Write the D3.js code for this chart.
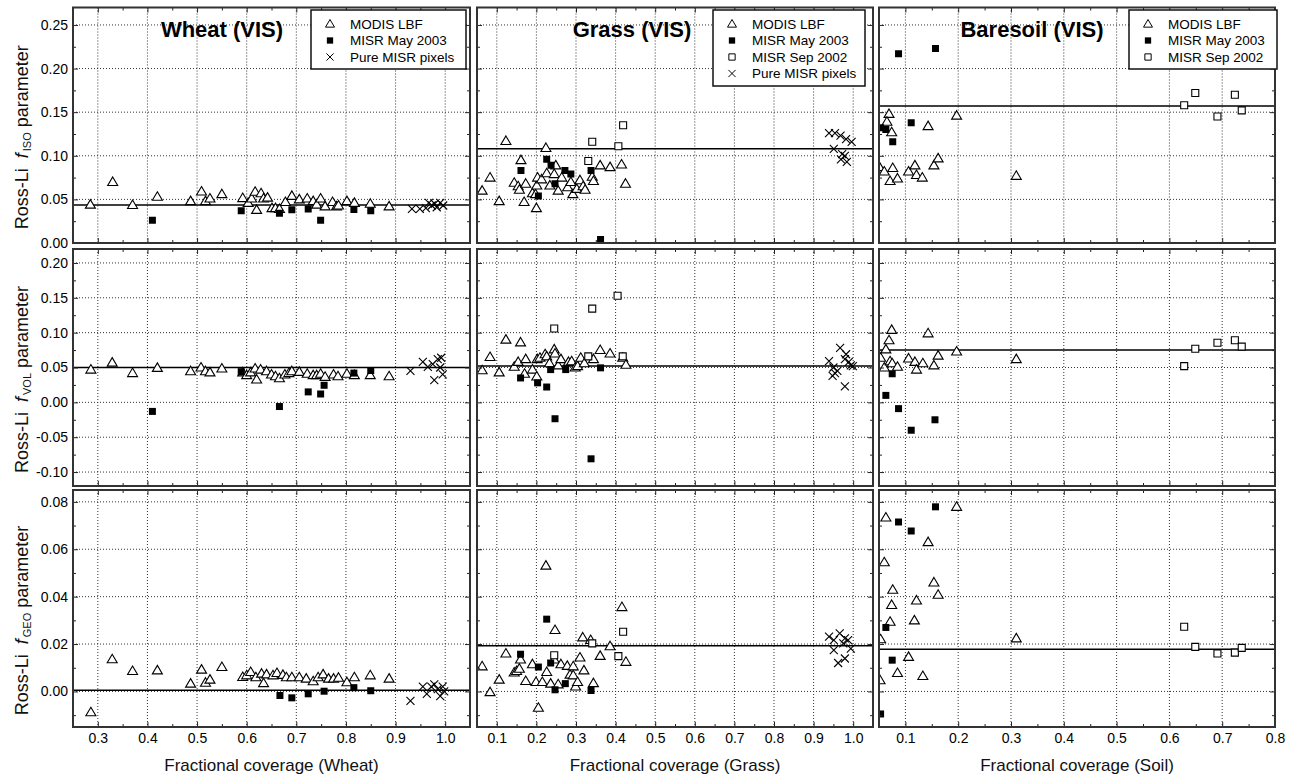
<!DOCTYPE html>
<html>
<head>
<meta charset="utf-8">
<script src="https://cdn.jsdelivr.net/npm/d3@7"></script>
<style>
  body { margin: 0; background: #fff; }
  text { font-family: "Liberation Sans", Arial, sans-serif; }
</style>
</head>
<body>
<svg id="chart" width="1291" height="781"></svg>
<script>
// ---- categories / labels ----
const crops = ["Wheat", "Grass", "Soil"];
const titles = ["Wheat (VIS)", "Grass (VIS)", "Baresoil (VIS)"];
const params = ["ISO", "VOL", "GEO"];
const seriesNames = ["MODIS LBF", "MISR May 2003", "MISR Sep 2002", "Pure MISR pixels"];
const legendSeries = [[0, 1, 3], [0, 1, 2, 3], [0, 1, 2]];

// ---- tick values ----
const xTicks = [
  [0.3, 0.4, 0.5, 0.6, 0.7, 0.8, 0.9, 1.0],
  [0.1, 0.2, 0.3, 0.4, 0.5, 0.6, 0.7, 0.8, 0.9, 1.0],
  [0.1, 0.2, 0.3, 0.4, 0.5, 0.6, 0.7, 0.8]
];
const yTicks = [
  [0, 0.05, 0.10, 0.15, 0.20, 0.25],
  [-0.10, -0.05, 0, 0.05, 0.10, 0.15, 0.20],
  [0, 0.02, 0.04, 0.06, 0.08]
];

// ---- horizontal mean lines [wheat, grass, soil] ----
const isoMean = [0.0435, 0.108, 0.157];
const volMean = [0.050, 0.052, 0.075];
const geoMean = [0.0005, 0.0193, 0.0178];

// ---- Wheat ----
const wheatIsoModis = [[0.285,0.044],[0.330,0.070],[0.370,0.0435],[0.420,0.053],[0.487,0.048],[0.509,0.059],[0.517,0.048],[0.526,0.051],[0.550,0.056],[0.592,0.0515],[0.603,0.046],[0.610,0.051],[0.617,0.0587],[0.620,0.038],[0.629,0.057],[0.634,0.051],[0.642,0.052],[0.651,0.040],[0.658,0.040],[0.666,0.039],[0.678,0.047],[0.691,0.054],[0.706,0.050],[0.722,0.051],[0.734,0.048],[0.741,0.044],[0.749,0.051],[0.758,0.042],[0.773,0.047],[0.781,0.042],[0.785,0.043],[0.802,0.048],[0.817,0.046],[0.849,0.045],[0.887,0.042]];
const wheatIsoMay = [[0.410,0.026],[0.589,0.037],[0.666,0.034],[0.691,0.038],[0.724,0.039],[0.749,0.026],[0.816,0.0385],[0.850,0.037]];
const wheatIsoPure = [[0.933,0.039],[0.949,0.039],[0.961,0.040],[0.967,0.046],[0.973,0.043],[0.979,0.045],[0.983,0.041],[0.990,0.046],[0.996,0.043]];

const wheatVolModis = [[0.286,0.047],[0.329,0.057],[0.370,0.042],[0.420,0.0495],[0.487,0.0447],[0.508,0.050],[0.517,0.0447],[0.526,0.043],[0.550,0.0486],[0.592,0.043],[0.600,0.039],[0.608,0.043],[0.617,0.0486],[0.620,0.0327],[0.628,0.047],[0.640,0.0447],[0.650,0.040],[0.658,0.0375],[0.666,0.0346],[0.677,0.040],[0.685,0.042],[0.691,0.0447],[0.706,0.0437],[0.722,0.041],[0.734,0.039],[0.741,0.039],[0.749,0.041],[0.758,0.0366],[0.775,0.040],[0.784,0.0375],[0.802,0.041],[0.817,0.039],[0.849,0.039],[0.887,0.0375]];
const wheatVolMay = [[0.410,-0.013],[0.589,0.044],[0.666,-0.006],[0.724,0.015],[0.749,0.012],[0.756,0.0245],[0.816,0.042],[0.850,0.0457]];
const wheatVolPure = [[0.930,0.045],[0.955,0.058],[0.965,0.051],[0.975,0.055],[0.978,0.032],[0.985,0.062],[0.990,0.050],[0.995,0.040],[0.992,0.064]];

const wheatGeoModis = [[0.286,-0.0088],[0.329,0.0136],[0.370,0.0086],[0.420,0.0089],[0.487,0.0033],[0.509,0.0092],[0.517,0.0037],[0.526,0.005],[0.550,0.0103],[0.592,0.0061],[0.600,0.0068],[0.608,0.0082],[0.6185,0.006],[0.630,0.0075],[0.634,0.0035],[0.640,0.0072],[0.653,0.0068],[0.661,0.0078],[0.673,0.007],[0.680,0.006],[0.691,0.006],[0.706,0.006],[0.720,0.0054],[0.734,0.0043],[0.744,0.006],[0.754,0.0072],[0.765,0.0054],[0.775,0.0054],[0.785,0.0058],[0.802,0.0039],[0.817,0.006],[0.849,0.0068],[0.887,0.0054]];
const wheatGeoMay = [[0.667,-0.0017],[0.691,-0.0027],[0.724,-0.001],[0.756,0.0001],[0.816,0.0016],[0.850,0.0003]];
const wheatGeoPure = [[0.930,-0.004],[0.955,0.002],[0.963,-0.001],[0.972,0.002],[0.978,0.003],[0.985,0.001],[0.990,-0.002],[0.995,0.002],[0.998,0.000]];

// ---- Grass ----
const grassIsoModis = [[0.063,0.060],[0.083,0.075],[0.106,0.048],[0.123,0.117],[0.144,0.069],[0.154,0.065],[0.157,0.061],[0.161,0.095],[0.169,0.047],[0.173,0.068],[0.190,0.057],[0.198,0.056],[0.201,0.066],[0.200,0.040],[0.203,0.075],[0.213,0.073],[0.224,0.109],[0.226,0.080],[0.234,0.066],[0.245,0.079],[0.249,0.089],[0.255,0.060],[0.264,0.075],[0.279,0.064],[0.287,0.070],[0.292,0.056],[0.302,0.062],[0.310,0.072],[0.318,0.065],[0.323,0.061],[0.341,0.076],[0.344,0.071],[0.361,0.089],[0.386,0.087],[0.415,0.090],[0.425,0.068]];
const grassIsoMay = [[0.161,0.083],[0.226,0.096],[0.237,0.089],[0.247,0.068],[0.205,0.054],[0.272,0.083],[0.287,0.079],[0.338,0.083],[0.362,0.004]];
const grassIsoSep = [[0.341,0.116],[0.331,0.094],[0.407,0.111],[0.419,0.135]];
const grassIsoPure = [[0.939,0.126],[0.954,0.126],[0.968,0.123],[0.982,0.119],[0.996,0.116],[0.951,0.108],[0.969,0.096],[0.979,0.100],[0.984,0.093],[0.972,0.102]];

const grassVolModis = [[0.063,0.046],[0.083,0.065],[0.106,0.043],[0.123,0.090],[0.144,0.051],[0.154,0.058],[0.160,0.086],[0.170,0.041],[0.173,0.062],[0.190,0.047],[0.201,0.037],[0.202,0.062],[0.209,0.064],[0.222,0.069],[0.226,0.066],[0.233,0.056],[0.245,0.076],[0.247,0.070],[0.255,0.053],[0.262,0.062],[0.281,0.058],[0.289,0.059],[0.298,0.050],[0.304,0.052],[0.312,0.064],[0.321,0.056],[0.344,0.062],[0.361,0.075],[0.386,0.070],[0.418,0.064],[0.426,0.054]];
const grassVolMay = [[0.160,0.035],[0.203,0.028],[0.226,0.022],[0.236,0.047],[0.247,-0.0235],[0.274,0.047],[0.338,-0.081],[0.362,0.0495]];
const grassVolSep = [[0.245,0.106],[0.341,0.1345],[0.405,0.153],[0.331,0.066],[0.418,0.066]];
const grassVolPure = [[0.939,0.059],[0.967,0.078],[0.982,0.069],[0.979,0.062],[0.994,0.053],[0.950,0.050],[0.954,0.042],[0.948,0.038],[0.960,0.045],[0.979,0.023],[0.989,0.058],[0.999,0.052]];

const grassGeoModis = [[0.063,0.0106],[0.083,-0.0003],[0.106,0.005],[0.123,0.016],[0.144,0.008],[0.150,0.0086],[0.157,0.0096],[0.160,0.0135],[0.173,0.0044],[0.190,0.0115],[0.199,0.004],[0.205,-0.0069],[0.215,0.004],[0.224,0.0531],[0.226,0.0082],[0.236,0.0033],[0.245,0.0135],[0.247,0.0259],[0.255,0.003],[0.262,0.0115],[0.278,0.0108],[0.285,0.0071],[0.293,0.0106],[0.293,0.0068],[0.299,0.0021],[0.304,0.004],[0.310,0.0143],[0.317,0.0228],[0.320,0.0089],[0.337,0.0217],[0.344,0.0035],[0.361,0.015],[0.386,0.0191],[0.416,0.0356],[0.426,0.0125]];
const grassGeoMay = [[0.160,0.0157],[0.205,0.0103],[0.226,0.0305],[0.236,0.012],[0.247,0.0007],[0.273,0.0033],[0.338,0.0004]];
const grassGeoSep = [[0.245,0.0153],[0.341,0.0203],[0.407,0.0149],[0.419,0.0252]];
const grassGeoPure = [[0.939,0.0231],[0.966,0.0245],[0.951,0.0217],[0.979,0.0224],[0.987,0.0217],[0.951,0.0174],[0.994,0.0181],[0.979,0.0139],[0.962,0.012],[0.975,0.0203]];

// ---- Baresoil ----
const soilIsoModis = [[0.051,0.087],[0.060,0.082],[0.069,0.148],[0.065,0.139],[0.074,0.127],[0.076,0.086],[0.071,0.071],[0.085,0.074],[0.106,0.082],[0.118,0.089],[0.121,0.078],[0.132,0.075],[0.143,0.134],[0.154,0.089],[0.162,0.097],[0.197,0.146],[0.310,0.077]];
const soilIsoMay = [[0.087,0.217],[0.157,0.223],[0.111,0.138],[0.053,0.132],[0.063,0.130],[0.076,0.116]];
const soilIsoSep = [[0.628,0.158],[0.649,0.172],[0.691,0.145],[0.724,0.170],[0.737,0.152]];

const soilVolModis = [[0.053,0.064],[0.063,0.076],[0.069,0.089],[0.074,0.104],[0.060,0.050],[0.071,0.059],[0.075,0.056],[0.085,0.051],[0.106,0.063],[0.118,0.058],[0.121,0.047],[0.133,0.056],[0.143,0.099],[0.154,0.053],[0.162,0.067],[0.197,0.073],[0.310,0.062]];
const soilVolMay = [[0.075,0.041],[0.063,0.010],[0.087,-0.009],[0.111,-0.040],[0.156,-0.025]];
const soilVolSep = [[0.628,0.052],[0.649,0.077],[0.691,0.0855],[0.724,0.089],[0.737,0.080]];

const soilGeoModis = [[0.063,0.0734],[0.060,0.0545],[0.076,0.0429],[0.074,0.0365],[0.071,0.0294],[0.053,0.022],[0.052,0.0047],[0.085,0.0078],[0.106,0.0146],[0.117,0.030],[0.121,0.0384],[0.133,0.0065],[0.143,0.063],[0.154,0.046],[0.162,0.0408],[0.197,0.0779],[0.310,0.0224]];
const soilGeoMay = [[0.157,0.0779],[0.087,0.0715],[0.111,0.0677],[0.063,0.027],[0.075,0.0132],[0.053,-0.0095]];
const soilGeoSep = [[0.628,0.0273],[0.649,0.0188],[0.691,0.016],[0.724,0.0164],[0.737,0.0184]];

// rows = parameter, cols = crop, each cell = [MODIS, May, Sep, Pure]
const panelData = [
  [[wheatIsoModis, wheatIsoMay, null, wheatIsoPure], [grassIsoModis, grassIsoMay, grassIsoSep, grassIsoPure], [soilIsoModis, soilIsoMay, soilIsoSep, null]],
  [[wheatVolModis, wheatVolMay, null, wheatVolPure], [grassVolModis, grassVolMay, grassVolSep, grassVolPure], [soilVolModis, soilVolMay, soilVolSep, null]],
  [[wheatGeoModis, wheatGeoMay, null, wheatGeoPure], [grassGeoModis, grassGeoMay, grassGeoSep, grassGeoPure], [soilGeoModis, soilGeoMay, soilGeoSep, null]]
];
const means = [isoMean, volMean, geoMean];

// ---- layout ----
const cols = [{left: 73, right: 470}, {left: 477, right: 873}, {left: 879, right: 1275}];
const rows = [{top: 7.5, bottom: 243}, {top: 249, bottom: 486}, {top: 490, bottom: 727}];
const xDomains = [[0.25, 1.05], [0.05, 1.05], [0.05, 0.8]];
const yDomains = [[0, 0.27], [-0.12, 0.22], [-0.015, 0.085]];
const yMinorStep = [0.025, 0.025, 0.01];
const titleX = [222, 632, 1032];
const legendBoxes = [
  {x: 311, y: 10, w: 155, h: 59},
  {x: 713, y: 10, w: 152, h: 76},
  {x: 1129, y: 10, w: 148, h: 59}
];

const markers = [
  {d: "M0,-5L5,3.5L-5,3.5Z", fill: "#fff", stroke: "#000"},
  {d: "M-3.5,-3.5h7v7h-7Z", fill: "#000", stroke: "none"},
  {d: "M-3.5,-3.5h7v7h-7Z", fill: "#fff", stroke: "#000"},
  {d: "M-4,-4L4,4M-4,4L4,-4", fill: "none", stroke: "#000"}
];

const svg = d3.select("#chart");
const eps = 1e-9;

function styleAxis(g) {
  g.select(".domain").remove();
  g.selectAll(".tick line").attr("stroke", "#222").attr("stroke-width", 1);
  g.selectAll("text").attr("font-size", 14).attr("fill", "#000")
    .attr("font-family", "Liberation Sans, Arial, sans-serif");
  g.attr("font-family", null).attr("font-size", null);
}

rows.forEach((rw, ri) => {
  cols.forEach((cl, ci) => {
    const x = d3.scaleLinear().domain(xDomains[ci]).range([cl.left, cl.right]);
    const y = d3.scaleLinear().domain(yDomains[ri]).range([rw.bottom, rw.top]);
    const g = svg.append("g");
    const clipId = `clip-${ri}-${ci}`;
    g.append("clipPath").attr("id", clipId).append("rect")
      .attr("x", cl.left).attr("y", rw.top)
      .attr("width", cl.right - cl.left).attr("height", rw.bottom - rw.top);

    // dotted grid at major ticks
    const grid = g.append("g").attr("stroke", "#333").attr("stroke-width", 1)
      .attr("stroke-dasharray", "1,2");
    grid.selectAll(".vg").data(xTicks[ci]).join("line")
      .attr("x1", d => x(d)).attr("x2", d => x(d))
      .attr("y1", rw.top).attr("y2", rw.bottom);
    grid.selectAll(".hg").data(yTicks[ri].filter(d => y(d) < rw.bottom - 2)).join("line")
      .attr("x1", cl.left).attr("x2", cl.right)
      .attr("y1", d => y(d)).attr("y2", d => y(d));

    const plot = g.append("g").attr("clip-path", `url(#${clipId})`);

    // mean line
    plot.append("line")
      .attr("x1", cl.left).attr("x2", cl.right)
      .attr("y1", y(means[ri][ci])).attr("y2", y(means[ri][ci]))
      .attr("stroke", "#000").attr("stroke-width", 1.5);

    // points
    panelData[ri][ci].forEach((pts, si) => {
      if (!pts) return;
      const m = markers[si];
      plot.append("g").selectAll("path").data(pts).join("path")
        .attr("transform", d => `translate(${x(d[0])},${y(d[1])})`)
        .attr("d", m.d)
        .attr("fill", m.fill)
        .attr("stroke", m.stroke)
        .attr("stroke-width", 1.1);
    });

    // axes (ticks inward on all four sides)
    const xMinor = d3.range(xDomains[ci][0], xDomains[ci][1] + eps, 0.05)
      .filter(v => !xTicks[ci].some(t => Math.abs(t - v) < 1e-6));
    const yMinor = d3.range(Math.ceil(yDomains[ri][0] / yMinorStep[ri]) * yMinorStep[ri], yDomains[ri][1], yMinorStep[ri])
      .filter(v => !yTicks[ri].some(t => Math.abs(t - v) < 1e-6));

    const fmtX = d => d.toFixed(1);
    const fmtY = d => d.toFixed(2);

    g.append("g").attr("transform", `translate(0,${rw.bottom})`)
      .call(d3.axisBottom(x).tickValues(xTicks[ci]).tickSize(-5).tickPadding(6.5)
        .tickFormat(ri === 2 ? fmtX : () => ""))
      .call(styleAxis);
    g.append("g").attr("transform", `translate(0,${rw.bottom})`)
      .call(d3.axisBottom(x).tickValues(xMinor).tickSize(-3).tickFormat(() => ""))
      .call(styleAxis);
    g.append("g").attr("transform", `translate(0,${rw.top})`)
      .call(d3.axisTop(x).tickValues(xTicks[ci]).tickSize(-5).tickFormat(() => ""))
      .call(styleAxis);
    g.append("g").attr("transform", `translate(0,${rw.top})`)
      .call(d3.axisTop(x).tickValues(xMinor).tickSize(-3).tickFormat(() => ""))
      .call(styleAxis);
    g.append("g").attr("transform", `translate(${cl.left},0)`)
      .call(d3.axisLeft(y).tickValues(yTicks[ri]).tickSize(-5).tickPadding(5)
        .tickFormat(ci === 0 ? fmtY : () => ""))
      .call(styleAxis);
    g.append("g").attr("transform", `translate(${cl.left},0)`)
      .call(d3.axisLeft(y).tickValues(yMinor).tickSize(-3).tickFormat(() => ""))
      .call(styleAxis);
    g.append("g").attr("transform", `translate(${cl.right},0)`)
      .call(d3.axisRight(y).tickValues(yTicks[ri]).tickSize(-5).tickFormat(() => ""))
      .call(styleAxis);
    g.append("g").attr("transform", `translate(${cl.right},0)`)
      .call(d3.axisRight(y).tickValues(yMinor).tickSize(-3).tickFormat(() => ""))
      .call(styleAxis);

    // frame
    g.append("rect")
      .attr("x", cl.left).attr("y", rw.top)
      .attr("width", cl.right - cl.left).attr("height", rw.bottom - rw.top)
      .attr("fill", "none").attr("stroke", "#333").attr("stroke-width", 2);

    // title + legend on top row
    if (ri === 0) {
      g.append("text")
        .attr("x", titleX[ci]).attr("y", 37)
        .attr("text-anchor", "middle")
        .attr("font-size", 22).attr("font-weight", "bold")
        .text(titles[ci]);

      const lb = legendBoxes[ci];
      const lg = g.append("g");
      lg.append("rect")
        .attr("x", lb.x).attr("y", lb.y).attr("width", lb.w).attr("height", lb.h)
        .attr("fill", "#fff").attr("stroke", "#111").attr("stroke-width", 1.5);
      const items = lg.selectAll(".item").data(legendSeries[ci]).join("g")
        .attr("transform", (d, i) => `translate(${lb.x},${lb.y + 14 + i * 16.5})`);
      items.append("path")
        .attr("transform", "translate(19,0) scale(0.9)")
        .attr("d", d => markers[d].d)
        .attr("fill", d => markers[d].fill)
        .attr("stroke", d => markers[d].stroke)
        .attr("stroke-width", 1.1);
      items.append("text")
        .attr("x", 39).attr("dy", "0.36em")
        .attr("font-size", 13.5)
        .text(d => seriesNames[d]);
    }
  });
});

// y-axis labels
rows.forEach((rw, ri) => {
  const cy = (rw.top + rw.bottom) / 2 + 12;
  const t = svg.append("text")
    .attr("transform", `translate(28,${cy}) rotate(-90)`)
    .attr("text-anchor", "middle")
    .attr("font-size", 18)
    .attr("fill", "#111");
  t.append("tspan").text("Ross-Li");
  t.append("tspan").attr("dx", 10).attr("font-style", "italic").text("f");
  t.append("tspan").attr("dx", 2).attr("dy", 3).attr("font-size", 11).text(params[ri]);
  t.append("tspan").attr("dy", -3).text(" parameter");
});

// x-axis labels
cols.forEach((cl, ci) => {
  svg.append("text")
    .attr("x", (cl.left + cl.right) / 2).attr("y", 771)
    .attr("text-anchor", "middle")
    .attr("font-size", 17)
    .attr("fill", "#111")
    .text(`Fractional coverage (${crops[ci]})`);
});
</script>
</body>
</html>
